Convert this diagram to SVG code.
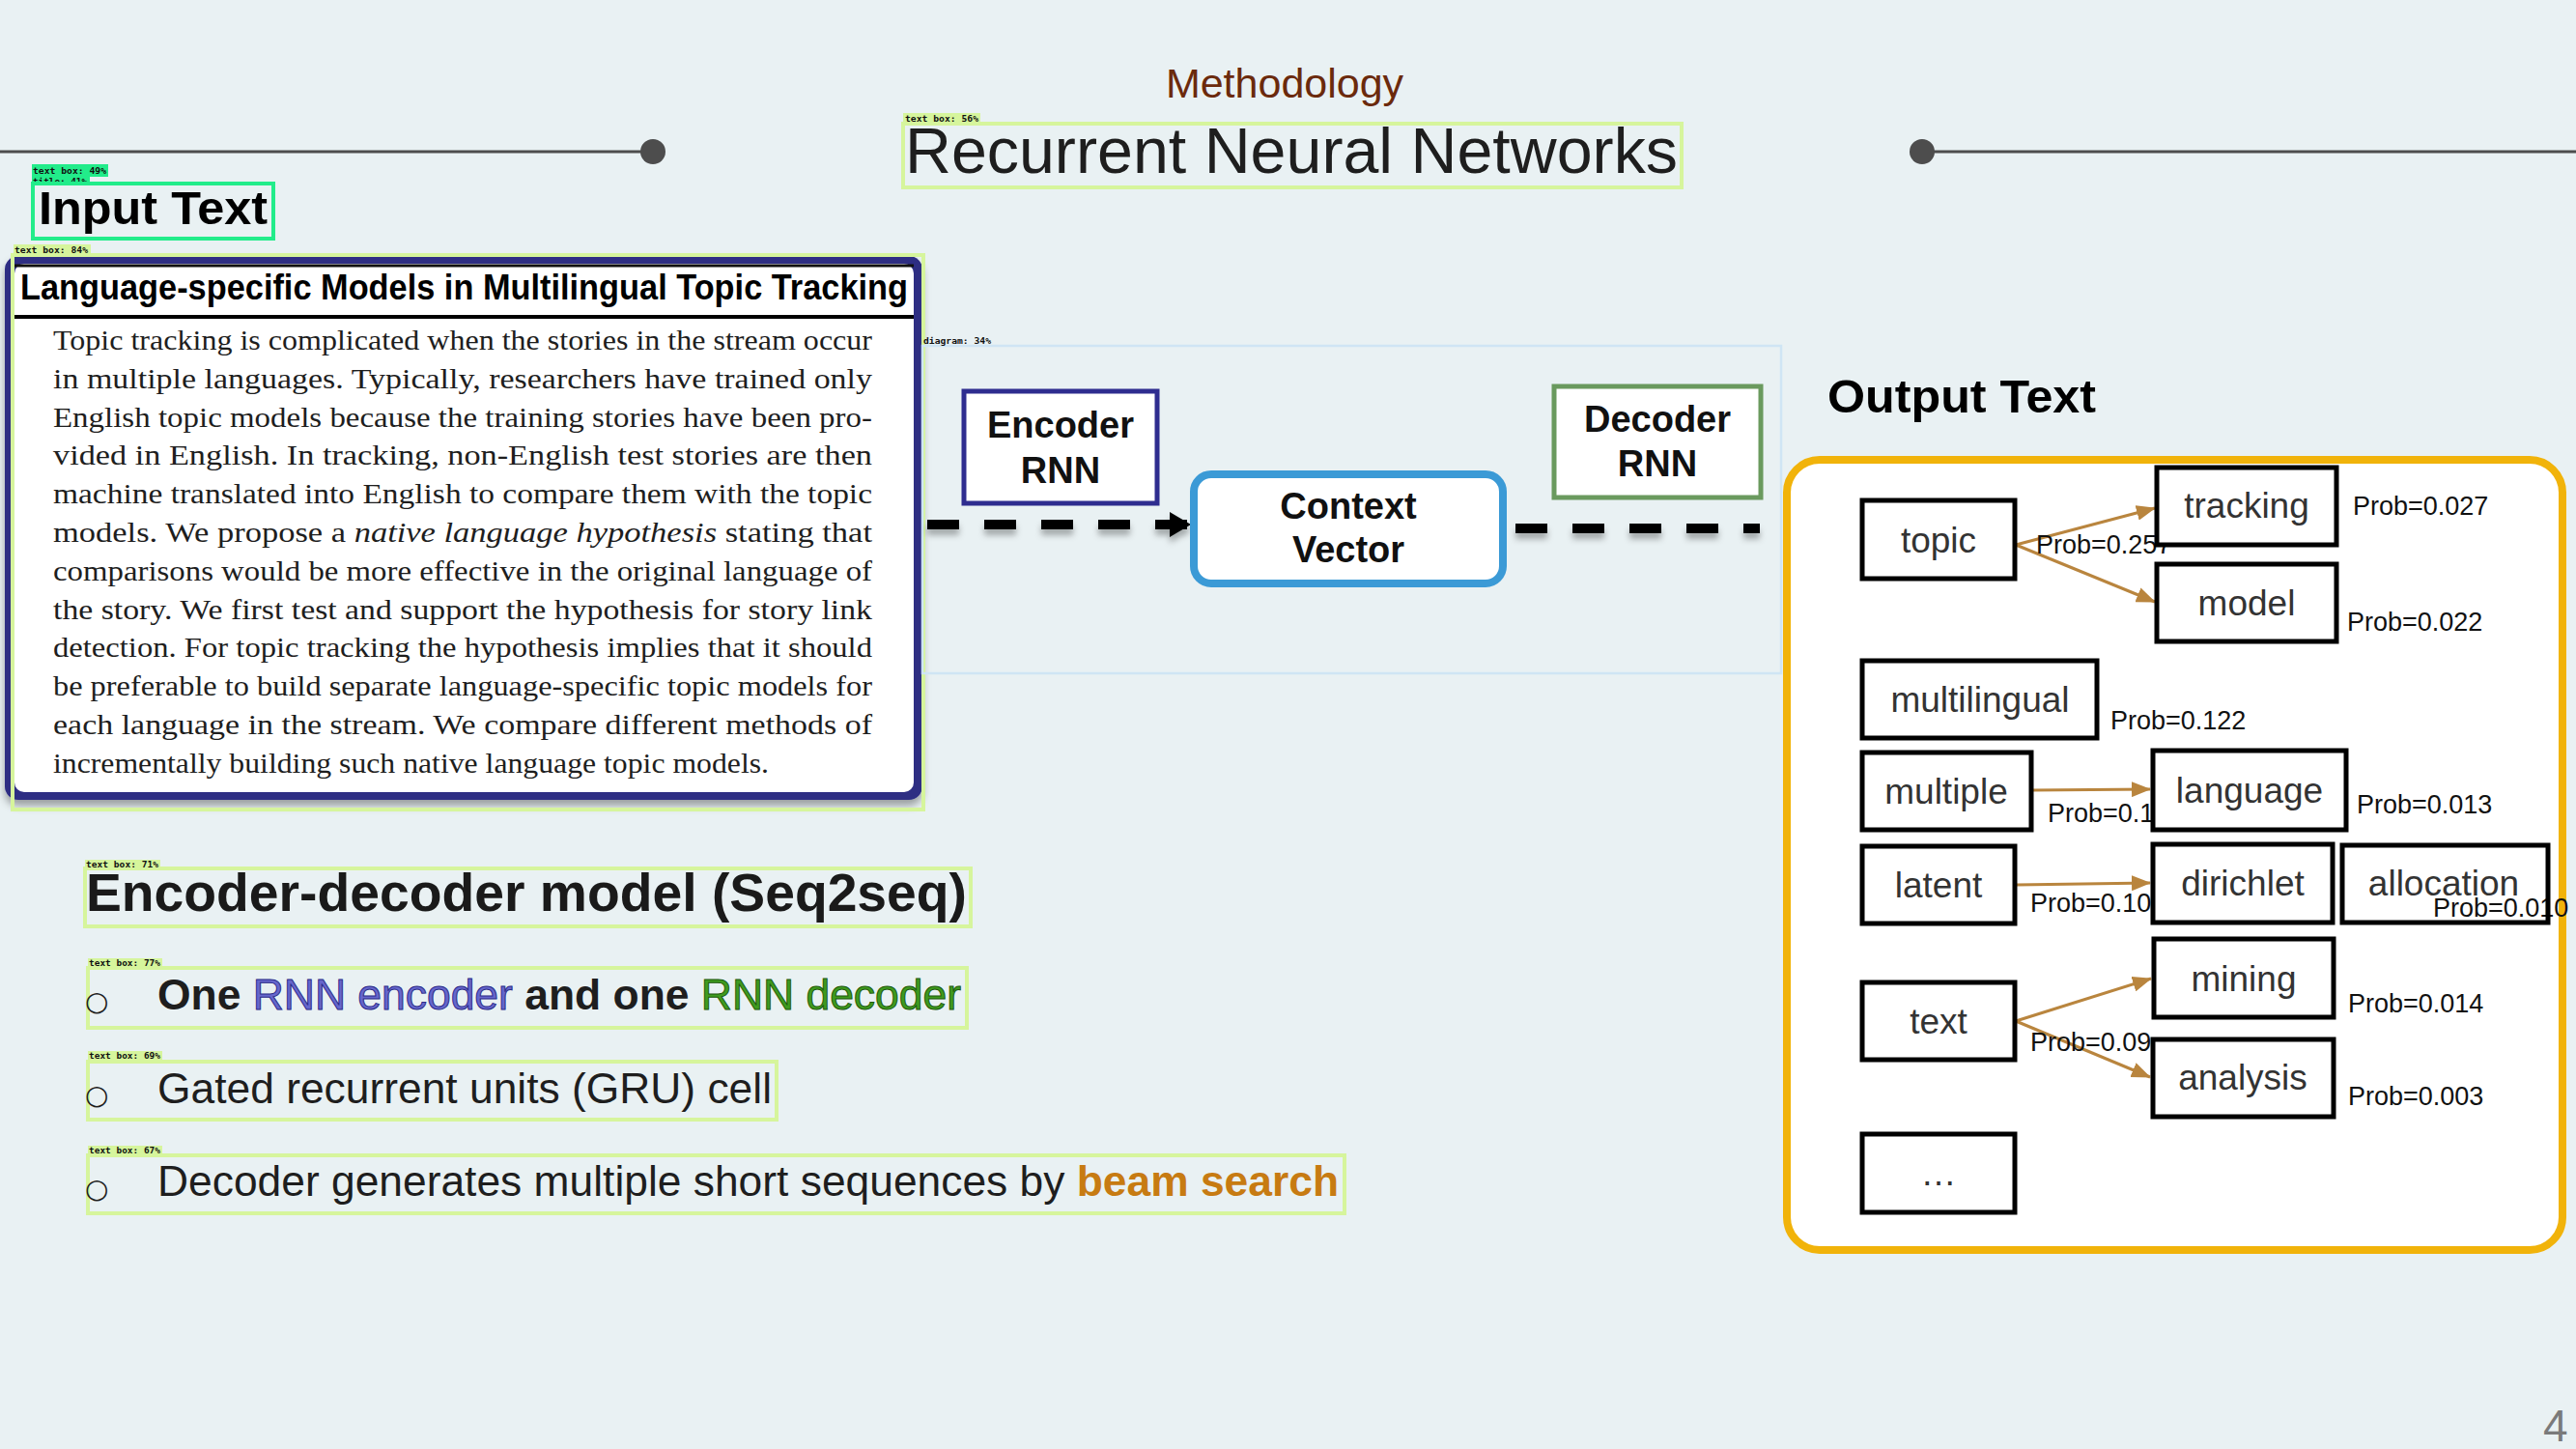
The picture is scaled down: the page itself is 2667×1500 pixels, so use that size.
<svg xmlns="http://www.w3.org/2000/svg" width="2667" height="1500" viewBox="0 0 2667 1500">
  <defs>
    <style>
      .sans { font-family: "Liberation Sans", Arial, sans-serif; }
      .serif { font-family: "Liberation Serif", "Times New Roman", serif; }
      .tag { font-family: "DejaVu Sans Mono", "Liberation Mono", monospace; font-size: 9px; font-weight: bold; fill: #111; }
      .det { fill: none; stroke: #d6f59c; stroke-width: 4; }
      .body { font-size: 29px; fill: #1e1e1e; }
      .word { fill: #fff; stroke: #000; stroke-width: 5; }
      .wtxt { font-size: 37px; fill: #333; text-anchor: middle; }
      .prob { font-size: 27px; fill: #111; }
      .beam { fill: none; stroke: #b9853e; stroke-width: 3; }
      .flow { fill: none; stroke: #000; stroke-width: 10; stroke-dasharray: 33 26; }
      .rnn { font-size: 38px; font-weight: bold; fill: #111; text-anchor: middle; }
      .bullet { font-size: 44px; fill: #1e1e1e; }
    </style>
    <marker id="brownHead" markerUnits="userSpaceOnUse" markerWidth="20" markerHeight="16" refX="19" refY="8" orient="auto">
      <path d="M0,0 L20,8 L0,16 z" fill="#b9853e"/>
    </marker>
    <marker id="blackHead" markerUnits="userSpaceOnUse" markerWidth="22" markerHeight="26" refX="20" refY="13" orient="auto">
      <path d="M0,0 L22,13 L0,26 z" fill="#000"/>
    </marker>
    <filter id="shadow" filterUnits="userSpaceOnUse" x="940" y="500" width="920" height="90">
      <feDropShadow dx="0" dy="6" stdDeviation="3" flood-color="#000" flood-opacity="0.3"/>
    </filter>
    <filter id="cardShadow" x="-5%" y="-5%" width="110%" height="115%">
      <feDropShadow dx="0" dy="6" stdDeviation="4" flood-color="#000" flood-opacity="0.35"/>
    </filter>
  </defs>

  <!-- page background -->
  <rect x="0" y="0" width="2667" height="1500" fill="#e9f1f3"/>

  <!-- header rule with end dots -->
  <g id="header">
    <line x1="0" y1="157" x2="676" y2="157" stroke="#4d4d4d" stroke-width="3"/>
    <circle cx="676" cy="157" r="13" fill="#4d4d4d"/>
    <line x1="1990" y1="157" x2="2667" y2="157" stroke="#4d4d4d" stroke-width="3"/>
    <circle cx="1990" cy="157" r="13" fill="#4d4d4d"/>
    <text class="sans" x="1330" y="101" font-size="43" fill="#6b2a0c" text-anchor="middle">Methodology</text>
    <rect class="det" x="935" y="128" width="806" height="66"/>
    <rect x="935" y="117" width="80" height="11" fill="#d6f59c"/>
    <text class="tag" x="937" y="126" textLength="76" lengthAdjust="spacingAndGlyphs">text box: 56%</text>
    <text class="sans" x="937" y="179" font-size="66" fill="#1e1e1e" textLength="800" lengthAdjust="spacingAndGlyphs">Recurrent Neural Networks</text>
  </g>

  <!-- input text heading -->
  <g id="input-title">
    <rect x="33" y="170" width="79" height="13" fill="#22ec8a"/>
    <text class="tag" x="34" y="180" textLength="76" lengthAdjust="spacingAndGlyphs">text box: 49%</text>
    <rect x="33" y="183" width="60" height="7" fill="#22ec8a"/>
    <text class="tag" x="34" y="191" textLength="56" lengthAdjust="spacingAndGlyphs">title: 41%</text>
    <rect x="34" y="190" width="249" height="57" fill="none" stroke="#22ec8a" stroke-width="4"/>
    <text class="sans" x="40" y="232" font-size="49" font-weight="bold" fill="#000" textLength="237" lengthAdjust="spacingAndGlyphs">Input Text</text>
  </g>

  <!-- paper abstract card -->
  <g id="paper-card">
    <rect x="14" y="253" width="80" height="10" fill="#d6f59c"/>
    <text class="tag" x="15" y="262" textLength="76" lengthAdjust="spacingAndGlyphs">text box: 84%</text>
    <rect x="5" y="265" width="950" height="563" rx="14" fill="#2e2d83" filter="url(#cardShadow)"/>
    <rect x="15" y="273" width="931" height="547" rx="10" fill="#fff"/>
    <line x1="15" y1="275" x2="946" y2="275" stroke="#111" stroke-width="3"/>
    <line x1="15" y1="328" x2="946" y2="328" stroke="#000" stroke-width="4"/>
    <text class="sans" x="21" y="310" font-size="37" font-weight="bold" fill="#000" textLength="919" lengthAdjust="spacingAndGlyphs">Language-specific Models in Multilingual Topic Tracking</text>
    <g class="serif body">
      <text x="55" y="362" textLength="848" lengthAdjust="spacingAndGlyphs">Topic tracking is complicated when the stories in the stream occur</text>
      <text x="55" y="402" textLength="848" lengthAdjust="spacingAndGlyphs">in multiple languages. Typically, researchers have trained only</text>
      <text x="55" y="442" textLength="848" lengthAdjust="spacingAndGlyphs">English topic models because the training stories have been pro-</text>
      <text x="55" y="481" textLength="848" lengthAdjust="spacingAndGlyphs">vided in English. In tracking, non-English test stories are then</text>
      <text x="55" y="521" textLength="848" lengthAdjust="spacingAndGlyphs">machine translated into English to compare them with the topic</text>
      <text x="55" y="561" textLength="848" lengthAdjust="spacingAndGlyphs">models. We propose a <tspan font-style="italic">native language hypothesis</tspan> stating that</text>
      <text x="55" y="601" textLength="848" lengthAdjust="spacingAndGlyphs">comparisons would be more effective in the original language of</text>
      <text x="55" y="641" textLength="848" lengthAdjust="spacingAndGlyphs">the story. We first test and support the hypothesis for story link</text>
      <text x="55" y="680" textLength="848" lengthAdjust="spacingAndGlyphs">detection. For topic tracking the hypothesis implies that it should</text>
      <text x="55" y="720" textLength="848" lengthAdjust="spacingAndGlyphs">be preferable to build separate language-specific topic models for</text>
      <text x="55" y="760" textLength="848" lengthAdjust="spacingAndGlyphs">each language in the stream. We compare different methods of</text>
      <text x="55" y="800" textLength="741" lengthAdjust="spacingAndGlyphs">incrementally building such native language topic models.</text>
    </g>
    <rect class="det" x="13" y="264" width="943" height="574" stroke-width="3"/>
  </g>

  <!-- seq2seq diagram frame -->
  <g id="diagram-frame">
    <rect x="955" y="358" width="889" height="339" fill="none" stroke="#cfe5f4" stroke-width="2.5"/>
    <text class="tag" x="956" y="356" textLength="70" lengthAdjust="spacingAndGlyphs">diagram: 34%</text>
  </g>

  <!-- beam search output panel -->
  <g id="output-panel">
    <text class="sans" x="1892" y="427" font-size="48" font-weight="bold" fill="#000" textLength="278" lengthAdjust="spacingAndGlyphs">Output Text</text>
    <rect x="1850" y="476" width="803" height="818" rx="34" fill="#fff" stroke="#f1b30a" stroke-width="8"/>
  </g>

  <!-- connectors -->
  <g id="connectors">
    <line class="flow" x1="960" y1="543" x2="1231" y2="543" marker-end="url(#blackHead)" filter="url(#shadow)"/>
    <line class="flow" x1="1561" y1="547" x2="1822" y2="547" stroke-dashoffset="-8" filter="url(#shadow)"/>
    <line class="beam" x1="2087" y1="564" x2="2231" y2="526" marker-end="url(#brownHead)"/>
    <line class="beam" x1="2087" y1="564" x2="2231" y2="623" marker-end="url(#brownHead)"/>
    <line class="beam" x1="2104" y1="818" x2="2226" y2="817" marker-end="url(#brownHead)"/>
    <line class="beam" x1="2087" y1="916" x2="2226" y2="914" marker-end="url(#brownHead)"/>
    <line class="beam" x1="2087" y1="1057" x2="2227" y2="1013" marker-end="url(#brownHead)"/>
    <line class="beam" x1="2087" y1="1057" x2="2226" y2="1115" marker-end="url(#brownHead)"/>
  </g>

  <g id="encoder-rnn">
    <rect x="998" y="405" width="200" height="116" fill="#fff" stroke="#2e2d8f" stroke-width="5"/>
    <text class="sans rnn" x="1098" y="453">Encoder</text>
    <text class="sans rnn" x="1098" y="500">RNN</text>
  </g>

  <g id="context-vector">
    <rect x="1236" y="491" width="320" height="113" rx="18" fill="#fff" stroke="#3b9ad6" stroke-width="8"/>
    <text class="sans rnn" x="1396" y="537">Context</text>
    <text class="sans rnn" x="1396" y="582">Vector</text>
  </g>

  <g id="decoder-rnn">
    <rect x="1609" y="400" width="214" height="115" fill="#fff" stroke="#6a9a5e" stroke-width="5"/>
    <text class="sans rnn" x="1716" y="447">Decoder</text>
    <text class="sans rnn" x="1716" y="493">RNN</text>
  </g>

  <g id="beam-labels" class="sans prob">
    <text x="2108" y="573">Prob=0.257</text>
    <text x="2120" y="851">Prob=0.1</text>
    <text x="2102" y="944">Prob=0.10</text>
    <text x="2102" y="1088">Prob=0.09</text>
  </g>

  <g id="node-topic">
    <rect class="word" x="1928" y="518" width="158" height="81"/>
    <text class="sans wtxt" x="2007" y="572">topic</text>
  </g>
  <g id="node-tracking">
    <rect class="word" x="2233" y="484" width="186" height="80"/>
    <text class="sans wtxt" x="2326" y="536">tracking</text>
    <text class="sans prob" x="2436" y="533">Prob=0.027</text>
  </g>
  <g id="node-model">
    <rect class="word" x="2233" y="584" width="186" height="80"/>
    <text class="sans wtxt" x="2326" y="637">model</text>
    <text class="sans prob" x="2430" y="653">Prob=0.022</text>
  </g>
  <g id="node-multilingual">
    <rect class="word" x="1928" y="684" width="243" height="80"/>
    <text class="sans wtxt" x="2050" y="737">multilingual</text>
    <text class="sans prob" x="2185" y="755">Prob=0.122</text>
  </g>
  <g id="node-multiple">
    <rect class="word" x="1928" y="779" width="175" height="80"/>
    <text class="sans wtxt" x="2015" y="832">multiple</text>
  </g>
  <g id="node-language">
    <rect class="word" x="2229" y="777" width="200" height="82"/>
    <text class="sans wtxt" x="2329" y="831">language</text>
    <text class="sans prob" x="2440" y="842">Prob=0.013</text>
  </g>
  <g id="node-latent">
    <rect class="word" x="1928" y="876" width="158" height="80"/>
    <text class="sans wtxt" x="2007" y="929">latent</text>
  </g>
  <g id="node-dirichlet">
    <rect class="word" x="2229" y="874" width="186" height="81"/>
    <text class="sans wtxt" x="2322" y="927">dirichlet</text>
  </g>
  <g id="node-allocation">
    <rect x="2425" y="875" width="213" height="80" fill="#fff"/>
    <text class="sans wtxt" x="2530" y="927">allocation</text>
    <text class="sans prob" x="2519" y="949">Prob=0.010</text>
    <rect x="2425" y="875" width="213" height="80" fill="none" stroke="#000" stroke-width="5"/>
  </g>
  <g id="node-mining">
    <rect class="word" x="2230" y="972" width="186" height="81"/>
    <text class="sans wtxt" x="2323" y="1026">mining</text>
    <text class="sans prob" x="2431" y="1048">Prob=0.014</text>
  </g>
  <g id="node-text">
    <rect class="word" x="1928" y="1017" width="158" height="80"/>
    <text class="sans wtxt" x="2007" y="1070">text</text>
  </g>
  <g id="node-analysis">
    <rect class="word" x="2229" y="1076" width="187" height="80"/>
    <text class="sans wtxt" x="2322" y="1128">analysis</text>
    <text class="sans prob" x="2431" y="1144">Prob=0.003</text>
  </g>
  <g id="node-more">
    <rect class="word" x="1928" y="1174" width="158" height="81"/>
    <text class="sans wtxt" x="2007" y="1227">…</text>
  </g>

  <!-- model summary bullets -->
  <g id="summary">
    <rect class="det" x="88" y="899" width="917" height="60"/>
    <rect x="88" y="890" width="78" height="9" fill="#d6f59c"/>
    <text class="tag" x="89" y="898" textLength="75" lengthAdjust="spacingAndGlyphs">text box: 71%</text>
    <text class="sans" x="89" y="943" font-size="55" font-weight="bold" fill="#1a1a1a" textLength="912" lengthAdjust="spacingAndGlyphs">Encoder-decoder model (Seq2seq)</text>

    <rect class="det" x="91" y="1002" width="910" height="62"/>
    <rect x="91" y="992" width="77" height="9" fill="#d6f59c"/>
    <text class="tag" x="92" y="1000" textLength="74" lengthAdjust="spacingAndGlyphs">text box: 77%</text>
    <text x="88" y="1046" font-family="DejaVu Sans, sans-serif" font-size="28" fill="#1e1e1e">○</text>
    <text class="sans bullet" x="163" y="1045" textLength="832" lengthAdjust="spacingAndGlyphs"><tspan font-weight="bold">One </tspan><tspan fill="#6666cc" stroke="#2c2c8a" stroke-width="1">RNN encoder</tspan><tspan font-weight="bold"> and one </tspan><tspan fill="#3f9a1e" stroke="#1d5a0c" stroke-width="1">RNN decoder</tspan></text>

    <rect class="det" x="91" y="1099" width="713" height="60"/>
    <rect x="91" y="1088" width="77" height="9" fill="#d6f59c"/>
    <text class="tag" x="92" y="1096" textLength="74" lengthAdjust="spacingAndGlyphs">text box: 69%</text>
    <text x="88" y="1143" font-family="DejaVu Sans, sans-serif" font-size="28" fill="#1e1e1e">○</text>
    <text class="sans bullet" x="163" y="1142" textLength="636" lengthAdjust="spacingAndGlyphs">Gated recurrent units (GRU) cell</text>

    <rect class="det" x="91" y="1196" width="1301" height="60"/>
    <rect x="91" y="1186" width="77" height="9" fill="#d6f59c"/>
    <text class="tag" x="92" y="1194" textLength="74" lengthAdjust="spacingAndGlyphs">text box: 67%</text>
    <text x="88" y="1240" font-family="DejaVu Sans, sans-serif" font-size="28" fill="#1e1e1e">○</text>
    <text class="sans bullet" x="163" y="1238" textLength="1223" lengthAdjust="spacingAndGlyphs">Decoder generates multiple short sequences by <tspan font-weight="bold" fill="#c77b12">beam search</tspan></text>
  </g>

  <text class="sans" x="2633" y="1492" font-size="46" fill="#7a7a7a">4</text>
</svg>
